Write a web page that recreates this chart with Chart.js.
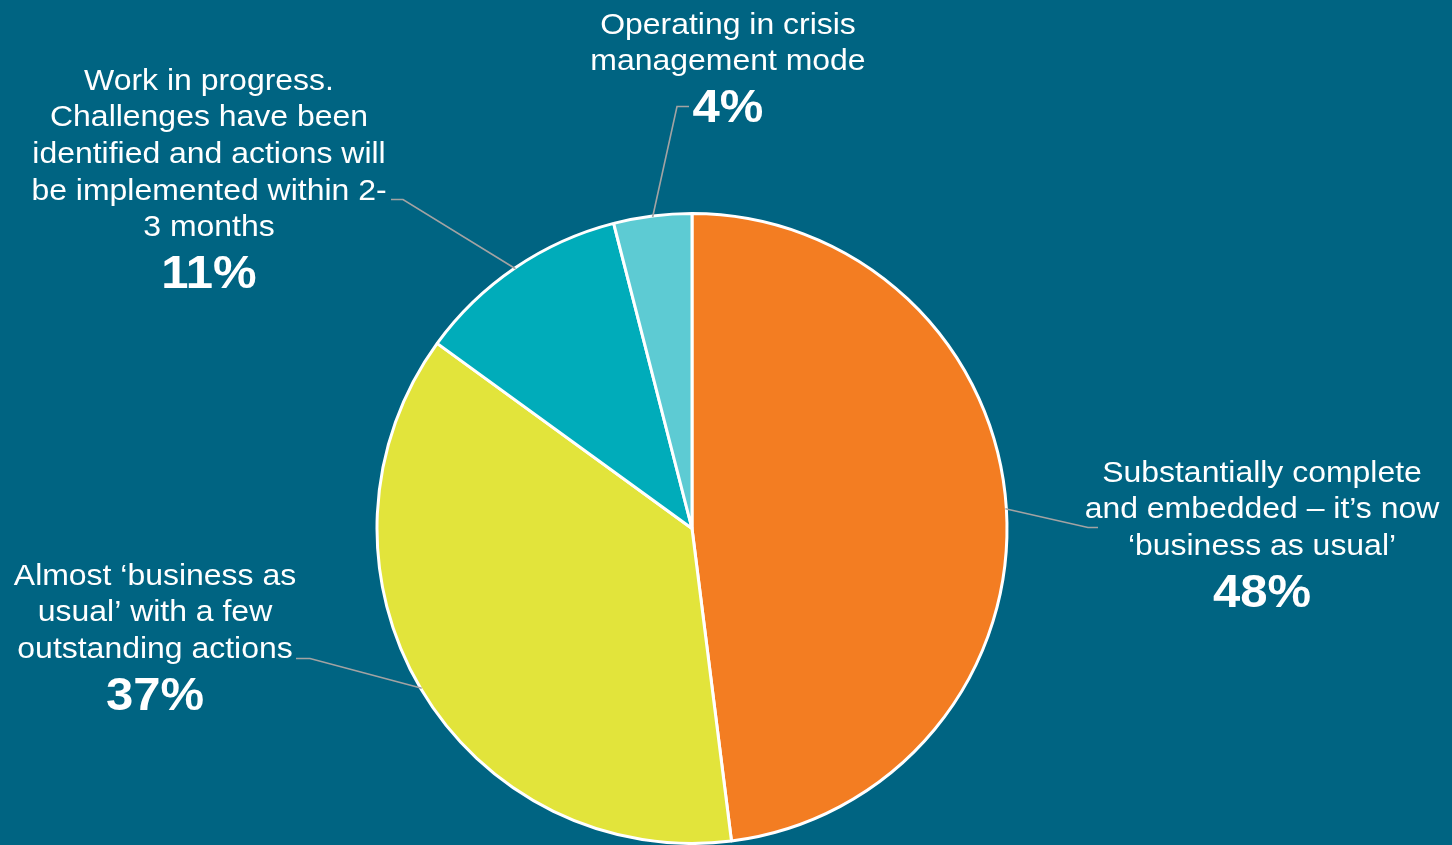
<!DOCTYPE html>
<html>
<head>
<meta charset="utf-8">
<script src="https://cdn.jsdelivr.net/npm/chart.js@4.4.1/dist/chart.umd.min.js"></script>
<style>
  html, body { margin: 0; padding: 0; background: #006482; }
  #wrap { position: relative; width: 1452px; height: 845px; }
  canvas { display: block; }
</style>
</head>
<body>
<div id="wrap"><canvas id="c" width="1452" height="845"></canvas></div>
<script>
const categories = [
  "Substantially complete and embedded – it’s now ‘business as usual’",
  "Almost ‘business as usual’ with a few outstanding actions",
  "Work in progress. Challenges have been identified and actions will be implemented within 2-3 months",
  "Operating in crisis management mode"
];
const values = [48, 37, 11, 4];
const percentLabels = ["48%", "37%", "11%", "4%"];
const labelLines = [
  ["Substantially complete", "and embedded – it’s now", "‘business as usual’"],
  ["Almost ‘business as", "usual’ with a few", "outstanding actions"],
  ["Work in progress.", "Challenges have been", "identified and actions will", "be implemented within 2-", "3 months"],
  ["Operating in crisis", "management mode"]
];
const sliceColors = ["#F37D22", "#E2E43B", "#00ACBA", "#5DCBD3"];

// label placement relative to pie centre (text centre x, first baseline y, elbow, end)
const labelLayout = [
  { tx: 570, ty: -47, ex: 396, ey: -1, hx: 406, hy: -1 },
  { tx: -537, ty: 56, ex: -382, ey: 130, hx: -396, hy: 130 },
  { tx: -483, ty: -439, ex: -289, ey: -329, hx: -301, hy: -329 },
  { tx: 36, ty: -495, ex: -15, ey: -422, hx: -3, hy: -422 }
];

const labelPlugin = {
  id: 'leaderLabels',
  afterDatasetsDraw(chart) {
    const ctx = chart.ctx;
    const meta = chart.getDatasetMeta(0);
    const sx = 1.065;
    meta.data.forEach((arc, i) => {
      const p = arc.getProps(['x', 'y', 'startAngle', 'endAngle', 'outerRadius'], true);
      const mid = (p.startAngle + p.endAngle) / 2;
      const ax = p.x + Math.cos(mid) * (p.outerRadius - 1);
      const ay = p.y + Math.sin(mid) * (p.outerRadius - 1);
      const L = labelLayout[i];
      ctx.save();
      ctx.strokeStyle = '#A3A3A3';
      ctx.lineWidth = 1.6;
      ctx.beginPath();
      ctx.moveTo(ax, ay);
      ctx.lineTo(p.x + L.ex, p.y + L.ey);
      ctx.lineTo(p.x + L.hx, p.y + L.hy);
      ctx.stroke();
      ctx.restore();

      const cx = p.x + L.tx;
      ctx.save();
      ctx.translate(cx, 0);
      ctx.scale(sx, 1);
      ctx.fillStyle = '#FFFFFF';
      ctx.textAlign = 'center';
      ctx.textBaseline = 'alphabetic';
      ctx.font = '30px "Liberation Sans", Arial, sans-serif';
      const lh = 36.7;
      const lines = labelLines[i];
      lines.forEach((t, k) => {
        ctx.fillText(t, 0, p.y + L.ty + k * lh);
      });
      ctx.font = 'bold 46px "Liberation Sans", Arial, sans-serif';
      ctx.fillText(percentLabels[i], 0, p.y + L.ty + (lines.length - 1) * lh + 52);
      ctx.restore();
    });
  }
};

new Chart(document.getElementById('c'), {
  type: 'pie',
  data: {
    labels: categories,
    datasets: [{
      data: values,
      backgroundColor: sliceColors,
      borderColor: '#FFFFFF',
      borderWidth: 3
    }]
  },
  options: {
    responsive: false,
    animation: false,
    layout: { padding: { left: 375, right: 443, top: 212, bottom: -1 } },
    plugins: {
      legend: { display: false },
      tooltip: { enabled: false }
    }
  },
  plugins: [labelPlugin]
});
</script>
</body>
</html>
